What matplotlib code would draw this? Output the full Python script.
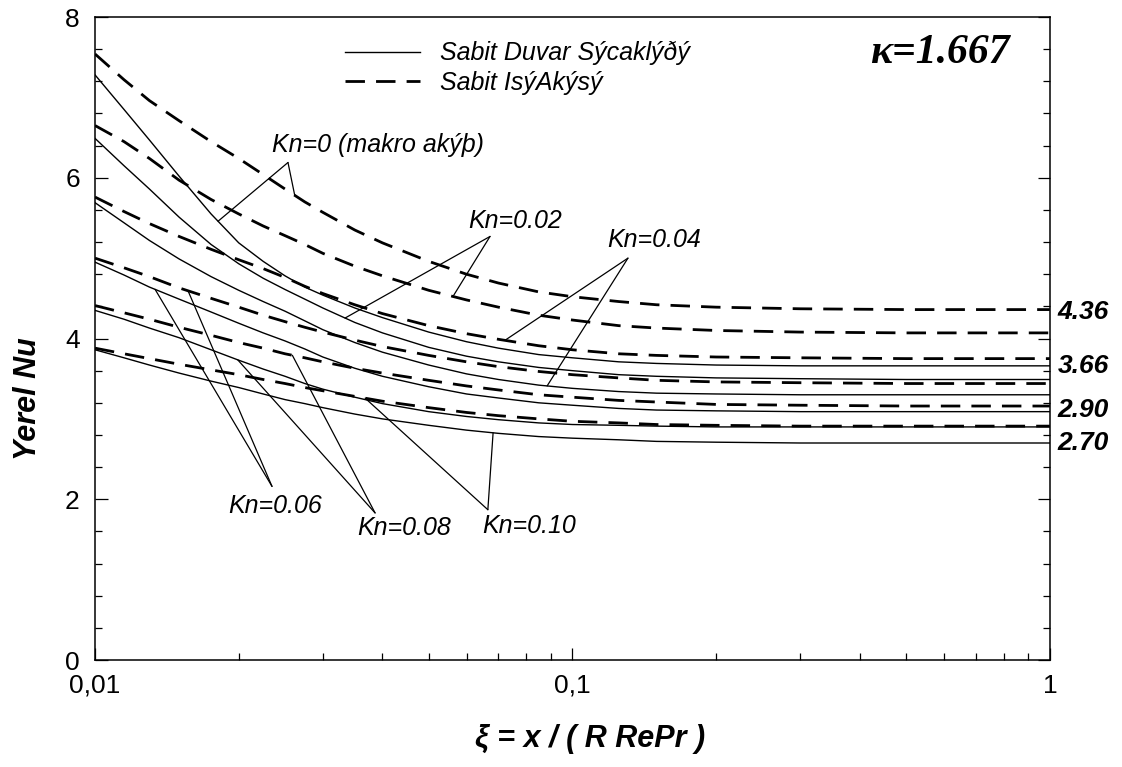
import matplotlib
matplotlib.use('Agg')
import matplotlib.pyplot as plt
from matplotlib.ticker import MultipleLocator, LogLocator, FixedLocator, FixedFormatter, NullFormatter
from matplotlib.lines import Line2D
from matplotlib.transforms import blended_transform_factory
import numpy as np

plt.rcParams['font.family'] = ['Liberation Sans', 'DejaVu Sans']

# ---------------- data ----------------
xi = [0.01, 0.0115, 0.013, 0.015, 0.0175, 0.02, 0.0225, 0.025, 0.0275, 0.03, 0.035,
      0.04, 0.05, 0.06, 0.07, 0.085, 0.1, 0.125, 0.15, 0.2, 0.3, 0.5, 1.0]

# constant heat flux (dashed)
nu_H_kn000 = [7.54, 7.22, 6.96, 6.71, 6.45, 6.24, 6.04, 5.86, 5.70, 5.57, 5.35,
              5.19, 4.96, 4.80, 4.69, 4.58, 4.52, 4.46, 4.42, 4.39, 4.37, 4.36, 4.36]
nu_H_kn002 = [6.65, 6.45, 6.24, 5.97, 5.73, 5.55, 5.40, 5.28, 5.17, 5.06, 4.90,
              4.78, 4.60, 4.48, 4.39, 4.29, 4.23, 4.16, 4.13, 4.10, 4.08, 4.07, 4.07]
nu_H_kn004 = [5.76, 5.58, 5.43, 5.27, 5.11, 4.98, 4.87, 4.76, 4.65, 4.56, 4.42,
              4.31, 4.16, 4.06, 3.99, 3.91, 3.86, 3.81, 3.79, 3.77, 3.76, 3.75, 3.75]
nu_H_kn006 = [5.00, 4.88, 4.77, 4.63, 4.50, 4.39, 4.29, 4.21, 4.14, 4.08, 3.98,
              3.90, 3.79, 3.71, 3.65, 3.59, 3.55, 3.51, 3.48, 3.46, 3.45, 3.44, 3.44]
nu_H_kn008 = [4.41, 4.32, 4.24, 4.14, 4.04, 3.95, 3.88, 3.81, 3.76, 3.71, 3.63,
              3.57, 3.48, 3.41, 3.36, 3.30, 3.27, 3.23, 3.21, 3.18, 3.17, 3.16, 3.16]
nu_H_kn010 = [3.88, 3.81, 3.75, 3.68, 3.61, 3.55, 3.49, 3.44, 3.39, 3.35, 3.28,
              3.22, 3.14, 3.08, 3.04, 3.00, 2.97, 2.95, 2.93, 2.92, 2.91, 2.91, 2.91]

# constant wall temperature (solid)
nu_T_kn000 = [7.28, 6.85, 6.47, 6.02, 5.55, 5.19, 4.96, 4.78, 4.64, 4.54, 4.38,
              4.26, 4.08, 3.96, 3.88, 3.80, 3.76, 3.71, 3.69, 3.67, 3.66, 3.66, 3.66]
nu_T_kn002 = [6.49, 6.15, 5.86, 5.51, 5.17, 4.93, 4.75, 4.61, 4.49, 4.38, 4.20,
              4.07, 3.89, 3.78, 3.71, 3.64, 3.60, 3.55, 3.53, 3.51, 3.50, 3.49, 3.49]
nu_T_kn004 = [5.69, 5.44, 5.22, 4.99, 4.77, 4.60, 4.46, 4.34, 4.22, 4.11, 3.95,
              3.83, 3.67, 3.56, 3.49, 3.42, 3.38, 3.34, 3.32, 3.31, 3.30, 3.30, 3.30]
nu_T_kn006 = [4.95, 4.79, 4.64, 4.49, 4.33, 4.19, 4.07, 3.97, 3.87, 3.77, 3.63,
              3.53, 3.40, 3.31, 3.26, 3.20, 3.17, 3.13, 3.11, 3.10, 3.09, 3.09, 3.09]
nu_T_kn008 = [4.35, 4.24, 4.13, 4.01, 3.86, 3.73, 3.62, 3.53, 3.44, 3.37, 3.27,
              3.19, 3.09, 3.03, 2.99, 2.95, 2.93, 2.92, 2.91, 2.90, 2.90, 2.90, 2.90]
nu_T_kn010 = [3.86, 3.76, 3.67, 3.57, 3.47, 3.39, 3.31, 3.24, 3.19, 3.14, 3.06,
              3.00, 2.92, 2.86, 2.82, 2.78, 2.76, 2.74, 2.72, 2.71, 2.70, 2.70, 2.70]

kn_names = ['Kn=0 (makro akýþ)', 'Kn=0.02', 'Kn=0.04', 'Kn=0.06', 'Kn=0.08', 'Kn=0.10']
# label text anchor (left, vertical centre) in data coords
kn_text_x = [0.02348, 0.0604, 0.118, 0.0190, 0.0354, 0.0646]
kn_text_y = [6.41, 5.46, 5.22, 1.92, 1.64, 1.67]
# pointer apex
kn_apex_x = [0.02536, 0.0672, 0.1307, 0.02348, 0.0386, 0.0665]
kn_apex_y = [6.19, 5.27, 5.00, 2.16, 1.83, 1.87]
# where the pointers touch the curves (x positions)
kn_ptr_T_x = [0.0181, 0.0334, 0.0885, 0.01336, 0.0199, 0.0682]
kn_ptr_H_x = [0.0262, 0.0562, 0.0722, 0.01566, 0.0259, 0.0368]

end_labels = ['4.36', '3.66', '2.90', '2.70']
end_label_y = [4.33, 3.66, 3.11, 2.70]

x_ticks = [0.01, 0.1, 1.0]
x_ticklabels = ['0,01', '0,1', '1']

series_H = [nu_H_kn000, nu_H_kn002, nu_H_kn004, nu_H_kn006, nu_H_kn008, nu_H_kn010]
series_T = [nu_T_kn000, nu_T_kn002, nu_T_kn004, nu_T_kn006, nu_T_kn008, nu_T_kn010]

# ---------------- figure ----------------
fig = plt.figure(figsize=(11.22, 7.67), dpi=100)
ax = fig.add_axes([0.0847, 0.1395, 0.851, 0.8383])
ax.set_xscale('log')

solid_kw = dict(color='black', lw=1.0, ls='-')
dash_kw = dict(color='black', lw=2.0, ls=(0, (7, 4)))

for s in series_T:
    ax.plot(xi, s, **solid_kw)
for s in series_H:
    ax.plot(xi, s, **dash_kw)

ax.set_xlim(0.01, 1.0)
ax.set_ylim(0, 8)

ax.xaxis.set_major_locator(FixedLocator(x_ticks))
ax.xaxis.set_major_formatter(FixedFormatter(x_ticklabels))
ax.xaxis.set_minor_locator(LogLocator(base=10, subs=np.arange(2, 10)))
ax.xaxis.set_minor_formatter(NullFormatter())
ax.yaxis.set_major_locator(MultipleLocator(2))
ax.yaxis.set_minor_locator(MultipleLocator(0.4))

ax.tick_params(which='both', direction='in', right=True, top=False, labelsize=19, width=0.9)
ax.tick_params(which='major', length=9)
ax.tick_params(axis='x', which='major', pad=10)
ax.tick_params(axis='y', which='major', pad=11)
ax.tick_params(which='minor', length=5)
for sp in ax.spines.values():
    sp.set_linewidth(1.1)

ax.set_xlabel('ξ = x / ( R RePr )', fontsize=22, fontweight='bold', style='italic')
ax.xaxis.set_label_coords(0.518, -0.1)
ax.set_ylabel('Yerel Nu', fontsize=22, fontweight='bold', style='italic')
ax.yaxis.set_label_coords(-0.055, 0.407)

# annotations
lx = np.log10(xi)
for i in range(6):
    ax.text(kn_text_x[i], kn_text_y[i], kn_names[i], fontsize=18, style='italic',
            ha='left', va='center')
    yT = np.interp(np.log10(kn_ptr_T_x[i]), lx, series_T[i])
    yH = np.interp(np.log10(kn_ptr_H_x[i]), lx, series_H[i])
    for px, py in ((kn_ptr_T_x[i], yT), (kn_ptr_H_x[i], yH)):
        ax.annotate('', xy=(px, py), xytext=(kn_apex_x[i], kn_apex_y[i]),
                    arrowprops=dict(arrowstyle='-', color='black', lw=0.9,
                                    shrinkA=0, shrinkB=0))

# right side values
tr = blended_transform_factory(ax.transAxes, ax.transData)
for lab, yv in zip(end_labels, end_label_y):
    ax.text(1.008, yv, lab, transform=tr, fontsize=19, fontweight='bold', style='italic',
            ha='left', va='center', clip_on=False)

# kappa
ax.text(0.8115, 0.944, 'κ=1.667', transform=ax.transAxes, fontsize=30,
        fontweight='bold', style='italic', family=['Liberation Serif', 'DejaVu Serif'],
        ha='left', va='center')

# legend
handles = [Line2D([], [], **solid_kw), Line2D([], [], **dash_kw)]
ax.legend(handles, ['Sabit Duvar Sýcaklýðý', 'Sabit IsýAkýsý'], loc='upper left',
          bbox_to_anchor=(0.2618, 0.962), frameon=False, handlelength=3.0,
          handletextpad=0.8, labelspacing=0.22, borderpad=0, borderaxespad=0,
          prop=dict(size=18, style='italic'))

fig.savefig('out.png', dpi=100)
